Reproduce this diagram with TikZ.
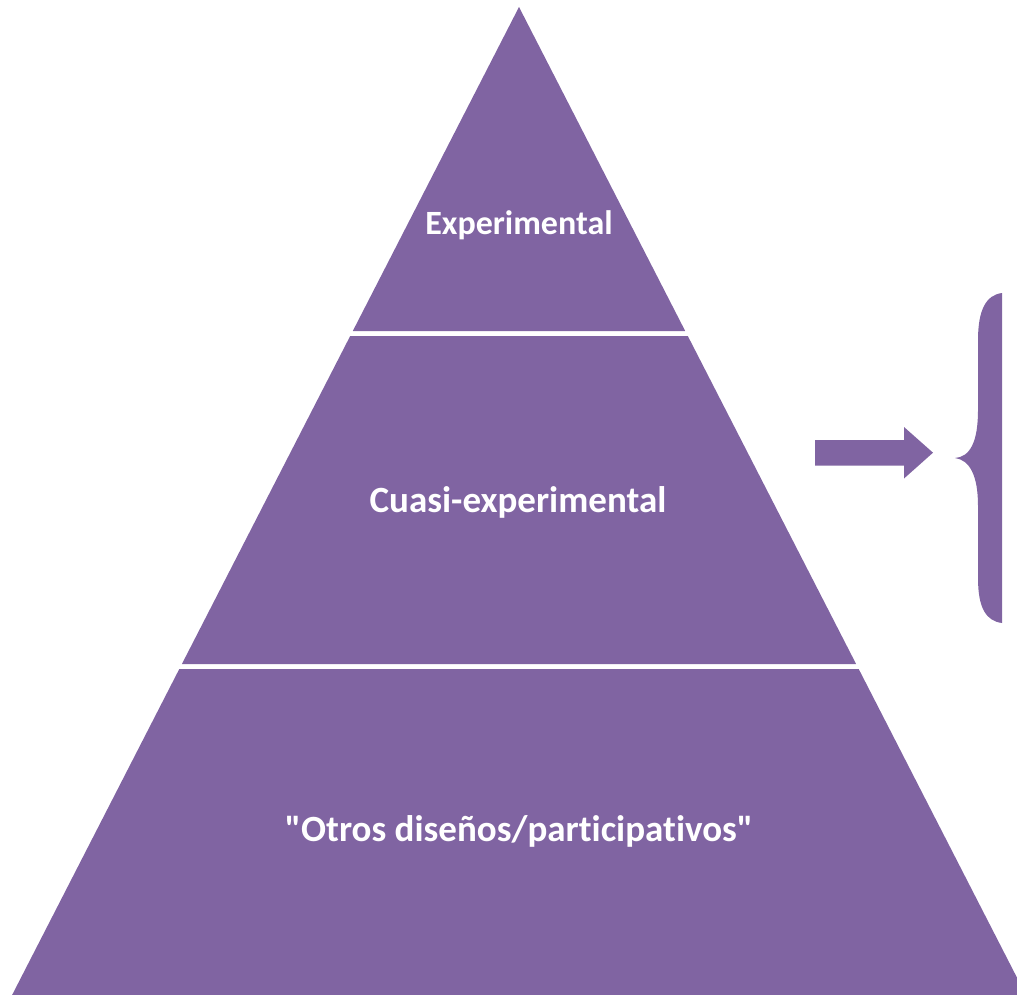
\documentclass[tikz,border=0pt]{standalone}
\usepackage{fontspec}
\setmainfont{Carlito}[Ligatures={NoCommon,NoContextual}]
\definecolor{pyr}{HTML}{8064A2}
\begin{document}
\begin{tikzpicture}[x=1pt,y=-1pt,
  band/.style={fill=pyr,draw=none},
  lbl/.style={text=white,font=\fontsize{37}{44}\selectfont\bfseries,anchor=base,inner sep=0pt}]
\useasboundingbox (0,0) rectangle (1017,995);
\clip (0,0) rectangle (1017,995);
% pyramid bands
\fill[band] (519,7) -- (685.2,331) -- (352.8,331) -- cycle;
\fill[band] (350.2,336) -- (687.8,336) -- (856.1,664) -- (181.9,664) -- cycle;
\fill[band] (179.3,669) -- (858.7,669) -- (1025.9,995) -- (12.1,995) -- cycle;
% labels
\node[lbl,font=\fontsize{34}{40}\selectfont\bfseries] (exp) at (519,234.5) {Experimental};
\node[lbl] (cuasi) at (518,512) {Cuasi-experimental};
\node[lbl] (otros) at (519,841) {\textquotedbl Otros diseños/participativos\textquotedbl};
% block arrow
\fill[band] (815,440) -- (904,440) -- (904,427) -- (933,452.7) -- (904,478.5) -- (904,465.7) -- (815,465.7) -- cycle;
% brace
\fill[band] (1002,293) .. controls (986,295) and (978,310) .. (978,340)
  -- (978,410) .. controls (978,442) and (970,457) .. (955,458)
  .. controls (970,460) and (978,476) .. (978,506)
  -- (978,578) .. controls (978,608) and (986,621) .. (1002,623) -- cycle;
\end{tikzpicture}
\end{document}
